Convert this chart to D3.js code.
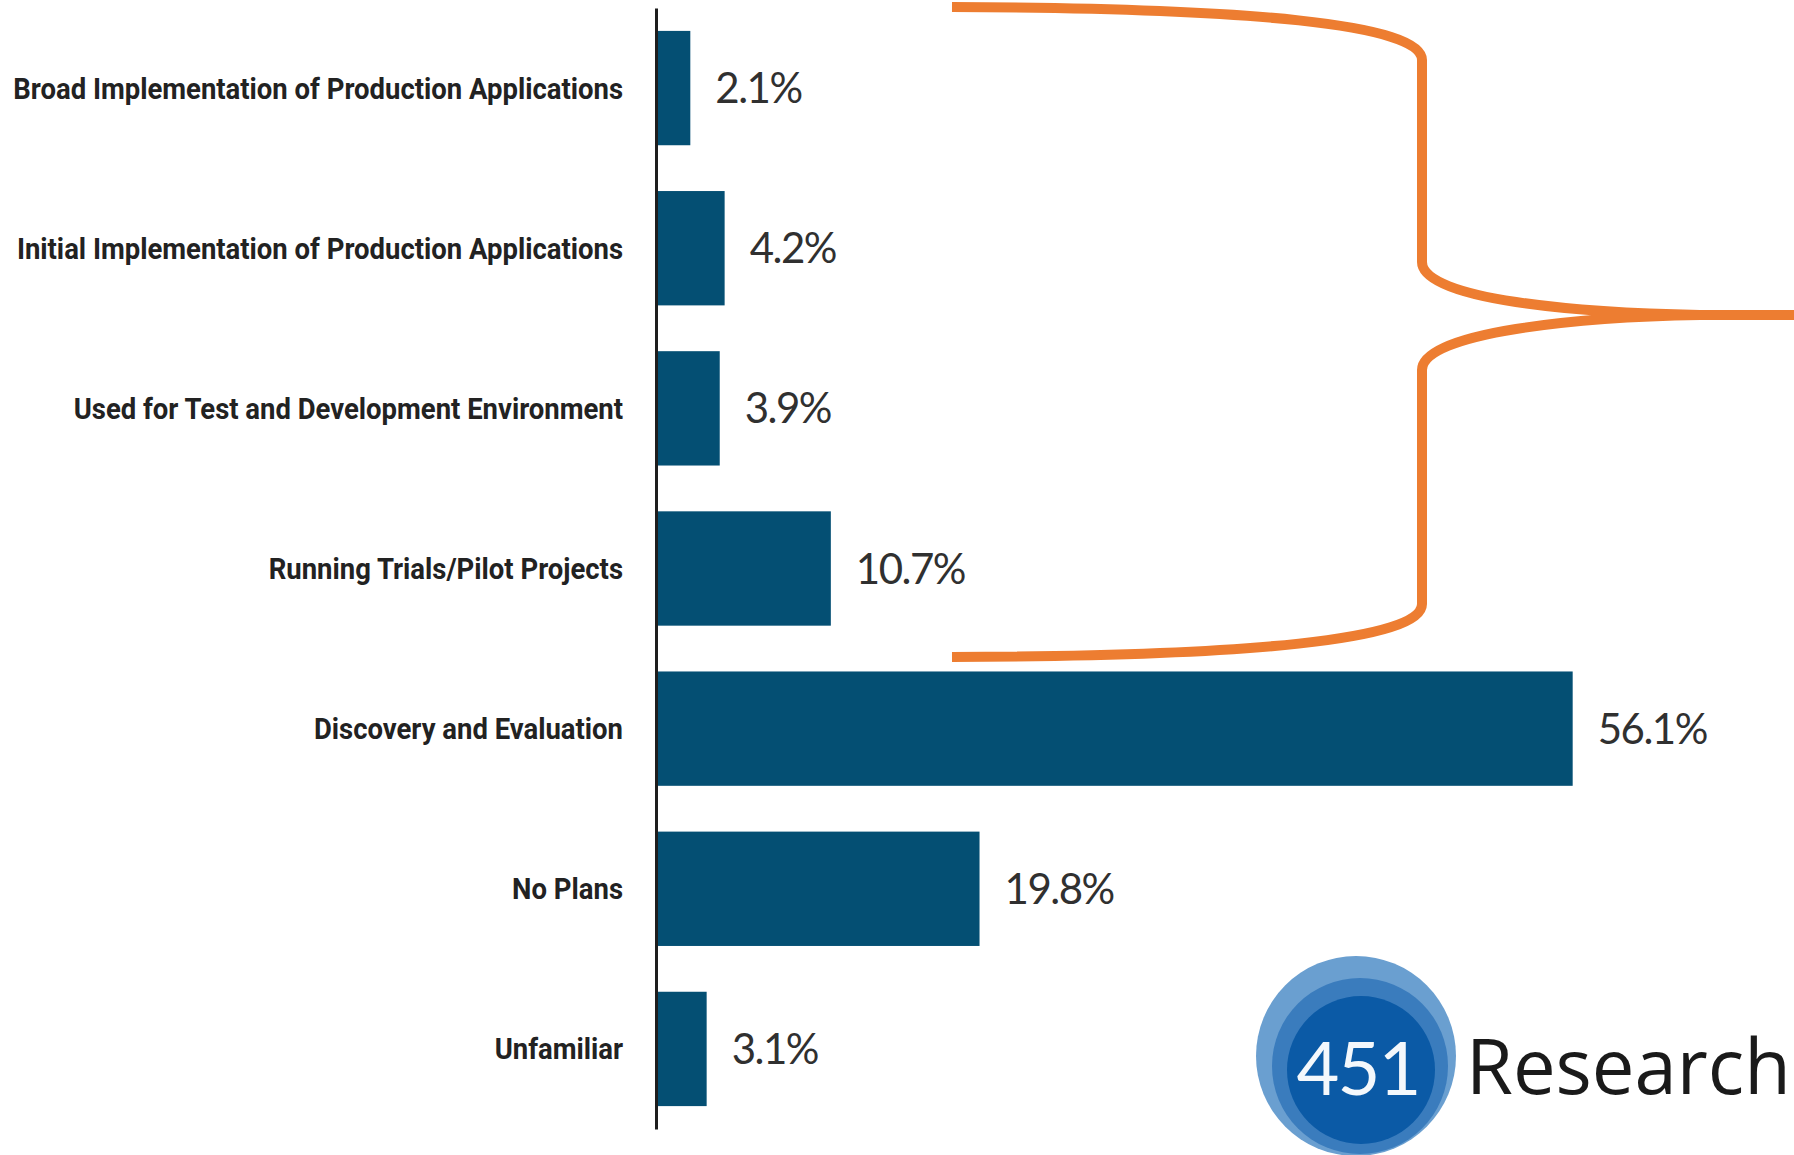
<!DOCTYPE html>
<html>
<head>
<meta charset="utf-8">
<script src="https://cdn.jsdelivr.net/npm/d3@7"></script>
<style>
  body { margin: 0; background: #fff; }
  svg { display: block; }
  .cat-label { font-family: Roboto, "DejaVu Sans", sans-serif; font-weight: 700; font-size: 29px; fill: #222; }
  .val-label { font-family: Lato, "Open Sans", sans-serif; font-size: 42px; fill: #303030; }
</style>
</head>
<body>
<svg class="chart" width="1794" height="1155"></svg>
<script>
var categories = [
    "Broad Implementation of Production Applications",
    "Initial Implementation of Production Applications",
    "Used for Test and Development Environment",
    "Running Trials/Pilot Projects",
    "Discovery and Evaluation",
    "No Plans",
    "Unfamiliar"
];
var values = [2.1, 4.2, 3.9, 10.7, 56.1, 19.8, 3.1];
var valueLabels = ["2.1%", "4.2%", "3.9%", "10.7%", "56.1%", "19.8%", "3.1%"];

var data = categories.map(function(c, i) {
    return {cat: c, value: values[i], label: valueLabels[i]};
});

var svg = d3.select("svg.chart");

var x = d3.scaleLinear().domain([0, 60]).range([656, 656 + 60 * 16.34]);
var y = d3.scaleBand()
    .domain(categories)
    .range([8, 1129])
    .paddingInner(0.286)
    .paddingOuter(0.143);

// bars
svg.selectAll(".bar")
    .data(data)
    .enter().append("rect")
    .attr("class", "bar")
    .attr("x", x(0))
    .attr("y", function(d) { return y(d.cat); })
    .attr("width", function(d) { return x(d.value) - x(0); })
    .attr("height", y.bandwidth())
    .attr("fill", "#044f73");

// value labels
svg.selectAll(".val-label")
    .data(data)
    .enter().append("text")
    .attr("class", "val-label")
    .attr("x", function(d) { return x(d.value) + 25; })
    .attr("y", function(d) { return y(d.cat) + y.bandwidth() / 2; })
    .attr("dy", "0.36em")
    .style("letter-spacing", "-1.5px")
    .text(function(d) { return d.label; });

// category axis (no ticks, just line + labels)
var axis = svg.append("g")
    .attr("class", "axis")
    .attr("transform", "translate(" + x(0) + ",0)")
    .call(d3.axisLeft(y).tickSize(0).tickSizeOuter(0).tickPadding(33));

axis.select(".domain")
    .attr("stroke", "#1e1e1e")
    .attr("stroke-width", 3);

var ticks = axis.selectAll(".tick text")
    .attr("class", "cat-label")
    .attr("font-family", null)
    .attr("font-size", null)
    .attr("fill", null);

// narrow the labels so the longest one spans the same width as in the original
var longest = d3.max(ticks.nodes(), function(n) { return n.getComputedTextLength(); });
var k = 610 / longest;
ticks
    .attr("x", 0)
    .attr("dy", "0.36em")
    .attr("transform", "translate(-33,0) scale(" + k + ",1)");

// orange brace
var p = d3.path();
p.moveTo(952, 7);
p.bezierCurveTo(1250, 8, 1422, 24, 1422, 60);
p.lineTo(1422, 262);
p.bezierCurveTo(1422, 300, 1580, 313, 1700, 315);
p.lineTo(1794, 315);
p.moveTo(1700, 315);
p.bezierCurveTo(1580, 317, 1422, 332, 1422, 370);
p.lineTo(1422, 604);
p.bezierCurveTo(1422, 640, 1250, 656, 952, 657);

svg.append("path")
    .attr("d", p.toString())
    .attr("fill", "none")
    .attr("stroke", "#ed7d31")
    .attr("stroke-width", 10);

// 451 Research logo
var logo = svg.append("g").attr("class", "logo");
logo.append("circle").attr("cx", 1356).attr("cy", 1056).attr("r", 100).attr("fill", "#6a9fd0");
logo.append("circle").attr("cx", 1360).attr("cy", 1066).attr("r", 88).attr("fill", "#3a7cbd");
logo.append("circle").attr("cx", 1361).attr("cy", 1070).attr("r", 74).attr("fill", "#0b5aa6");
logo.append("text")
    .attr("x", 1358).attr("y", 1095)
    .attr("text-anchor", "middle")
    .style("font-family", "Lato, 'Open Sans', sans-serif")
    .style("font-size", "74px")
    .style("letter-spacing", "-2px")
    .attr("fill", "#f4f8fc")
    .text("451");
logo.append("text")
    .attr("x", 1466).attr("y", 1094)
    .style("font-family", "'Open Sans', Lato, sans-serif")
    .style("font-size", "76px")
    .attr("fill", "#1a1a1a")
    .text("Research");
</script>
</body>
</html>
